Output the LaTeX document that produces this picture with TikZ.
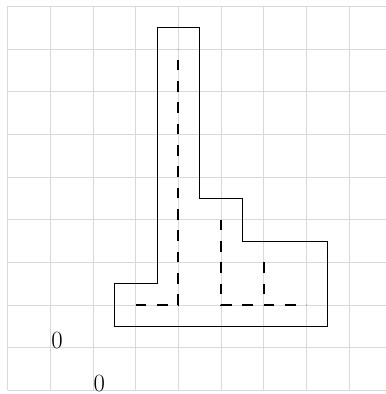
\documentclass[tikz,border=0pt]{standalone}
\begin{document}
\begin{tikzpicture}[x=1cm,y=1cm,
  gridline/.style={draw=gray!30,line width=0.5pt},
  outline/.style={draw=black,line width=0.6pt},
  dashline/.style={draw=black,line width=1.5pt,dash pattern=on 0.25cm off 0.25cm},
  zerolabel/.style={inner sep=0pt,font=\fontsize{16.5}{19}\selectfont}]
\useasboundingbox (-0.180,-0.087) rectangle (8.866,9.148);
\draw[gridline] (0,0) grid (9,9);
\draw[outline] (3.5,8.5) -- (4.5,8.5) -- (4.5,4.5) -- (5.5,4.5) -- (5.5,3.5)
  -- (7.5,3.5) -- (7.5,1.5) -- (2.5,1.5) -- (2.5,2.5) -- (3.5,2.5) -- cycle;
\coordinate (a1) at (3,2);
\coordinate (a2) at (4,2);
\coordinate (a3) at (4,8);
\coordinate (b1) at (5,4);
\coordinate (b2) at (5,2);
\coordinate (b3) at (7,2);
\coordinate (c1) at (6,3);
\coordinate (c2) at (6,2);
\draw[dashline] (a1) -- (a2) -- (a3);
\draw[dashline] (b1) -- (b2) -- (b3);
\draw[dashline] (c1) -- (c2);
\node[zerolabel] (z1) at (1.155,1.17) {0};
\node[zerolabel] (z2) at (2.15,0.17) {0};
\end{tikzpicture}
\end{document}
